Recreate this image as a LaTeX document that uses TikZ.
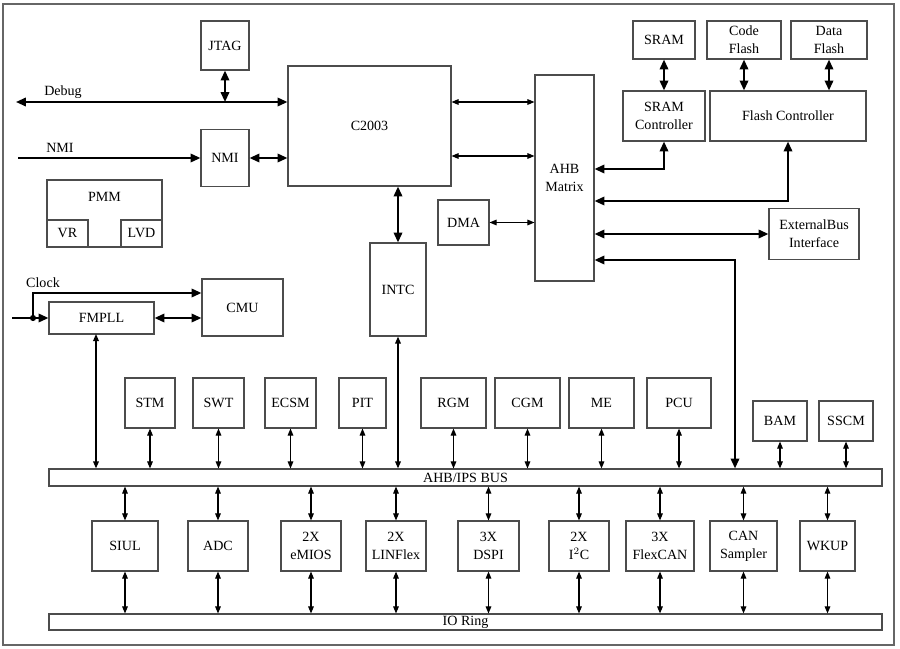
\documentclass[tikz,border=0pt]{standalone}
\usepackage{fontspec}
\setmainfont{Liberation Serif}
\usetikzlibrary{arrows.meta}

\tikzset{
    blk/.style={draw=black!70, line width=0.8pt, inner sep=0pt, align=center},
    sz/.style 2 args={minimum width=#1*0.025cm, minimum height=#2*0.025cm},
    bigarr/.style={line width=1.4pt, {Triangle[length=7pt,width=6pt]}-{Triangle[length=7pt,width=6pt]}},
    bigto/.style={line width=1.4pt, -{Triangle[length=7pt,width=6pt]}},
    thinarr/.style={line width=0.8pt, {Triangle[length=5pt,width=4pt]}-{Triangle[length=5pt,width=4pt]}},
    every node/.style={font=\fontsize{10}{13}\selectfont}
}

\begin{document}
\begin{tikzpicture}[x=0.025cm, y=-0.025cm]
        \useasboundingbox (0,0) rectangle (900,649);
        \draw[black!60, line width=1pt] (3,4) rectangle (894,645);

        \node[blk, sz={48}{49}] (jtag) at (225,45.5) {JTAG};
        \node[blk, sz={163}{120}] (cpu) at (369.5,126) {C2003};
        \node[blk, sz={48}{57}] (nmi) at (225,158) {NMI};
        \node[blk, sz={115}{67}] (pmm) at (104.5,213.5) {};
        \node (pmmlbl) at (104.5,197) {PMM};
        \node[blk, sz={41}{27}] (vr) at (67.5,233.5) {VR};
        \node[blk, sz={41}{27}] (lvd) at (141.5,233.5) {LVD};
        \node[blk, sz={105}{32}] (fmpll) at (101.5,318) {FMPLL};
        \node[blk, sz={81}{57}] (cmu) at (242.5,307.5) {CMU};
        \node[blk, sz={56}{93}] (intc) at (398,289.5) {INTC};
        \node[blk, sz={51}{45}] (dma) at (463.5,222.5) {DMA};
        \node[blk, sz={59}{206}] (ahb) at (564.5,178) {AHB\\Matrix};
        \node[blk, sz={62}{38}] (sram) at (664,40) {SRAM};
        \node[blk, sz={74}{38}] (cflash) at (744,40) {Code\\Flash};
        \node[blk, sz={76}{38}] (dflash) at (829,40) {Data\\Flash};
        \node[blk, sz={82}{50}] (sramc) at (664,116) {SRAM\\Controller};
        \node[blk, sz={156}{50}] (flashc) at (788,116) {Flash Controller};
        \node[blk, sz={90}{51}] (ebi) at (814,234) {ExternalBus\\Interface};

        \node[blk, sz={833}{17}] (bus) at (465.5,477.5) {AHB/IPS BUS};
        \node[blk, sz={833}{16}] (io) at (465.5,622) {IO Ring};

        \coordinate (dbgL) at (16,102);
        \coordinate (nmiin) at (18,158);
        \coordinate (clkin) at (12,318);
        \coordinate (clkdot) at (33,318);
        \node (dbglbl) at (63,92) {Debug};
        \node (nmilbl) at (60,148) {NMI};
        \node (clklbl) at (43,283) {Clock};

        \draw[bigarr] (dbgL) -- (dbgL -| cpu.west);
        \draw[bigarr] (jtag.south) -- (jtag.south |- dbgL);
        \draw[bigto] (nmiin) -- (nmi.west);
        \draw[bigarr] (nmi.east) -- (nmi.east -| cpu.west);
        \draw[bigarr] (intc.north |- cpu.south) -- (intc.north);
        \draw[line width=1.4pt] (clkin) -- (clkdot);
        \fill (clkdot) circle (2.2pt);
        \draw[bigto] (clkdot) -- (fmpll.west);
        \draw[bigto] (clkdot) -- (33,293) -- (cmu.west |- 0,293);
        \draw[bigarr] (fmpll.east) -- (fmpll.east -| cmu.west);
        \draw[thinarr, line width=1pt] (96,334) -- (bus.north -| 96,0);
        \draw[thinarr, line width=1pt] (intc.south) -- (intc.south |- bus.north);

        \draw[thinarr] (cpu.east |- 0,102) -- (ahb.west |- 0,102);
        \draw[thinarr] (cpu.east |- 0,156) -- (ahb.west |- 0,156);
        \draw[thinarr] (dma.east) -- (dma.east -| ahb.west);
        \draw[bigarr] (sram.south) -- (sramc.north);
        \draw[bigarr] (cflash.south) -- (cflash.south |- flashc.north);
        \draw[bigarr] (dflash.south) -- (dflash.south |- flashc.north);
        \draw[bigarr] (ahb.east |- 0,169) -| (sramc.south);
        \draw[bigarr] (ahb.east |- 0,201) -| (flashc.south);
        \draw[bigarr] (ahb.east |- ebi.west) -- (ebi.west);
        \draw[bigarr] (ahb.east |- 0,260) -| (bus.north -| 735,0);

        \foreach \n/\x/\w/\t in {stm/150/50/STM, swt/218.5/51/SWT, ecsm/290.5/51/ECSM, pit/362.5/47/PIT,
                rgm/453.5/65/RGM, cgm/527.5/65/CGM, me/601.5/65/ME, pcu/679/64/PCU} {
            \node[blk, sz={\w}{50}] (\n) at (\x,403) {\t};
            \draw[thinarr] (\n.south) -- (\n.south |- bus.north);
        }
        \foreach \n/\x/\t in {bam/780/BAM, sscm/846/SSCM} {
            \node[blk, sz={54}{40}] (\n) at (\x,421) {\t};
            \draw[thinarr] (\n.south) -- (\n.south |- bus.north);
        }
        \foreach \n/\x/\w/\t in {siul/125/66/SIUL, adc/218/60/ADC, emios/311/60/{2X\\eMIOS},
                linflex/396/60/{2X\\LINFlex}, dspi/488.5/61/{3X\\DSPI}, iic/579/60/{2X\\I$^2$C},
                flexcan/660/68/{3X\\FlexCAN}, cansamp/743.5/67/{CAN\\Sampler}, wkup/827.5/55/WKUP} {
            \node[blk, sz={\w}{50}] (\n) at (\x,546) {\t};
            \draw[thinarr] (\n.north |- bus.south) -- (\n.north);
            \draw[thinarr] (\n.south) -- (\n.south |- io.north);
        }
\end{tikzpicture}
\end{document}
